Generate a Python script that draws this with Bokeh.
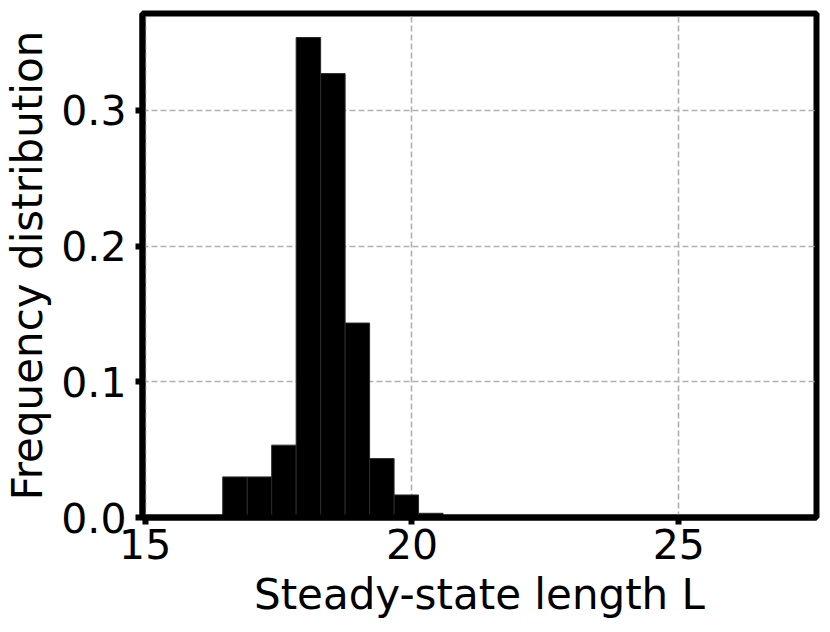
from bokeh.plotting import figure
from bokeh.models import Range1d, FixedTicker, CustomJSTickFormatter
from bokeh.embed import file_html
from bokeh.resources import INLINE

# Histogram data (25 bins)
bin_start = 15.536
bin_width = 0.4587
freq = [0.0, 0.0, 0.0299, 0.0299, 0.0533, 0.3537, 0.3271, 0.1433, 0.0434,
        0.0166, 0.0031, 0.0, 0.0, 0.0, 0.0, 0.0, 0.0, 0.0, 0.0, 0.0,
        0.0, 0.0, 0.0, 0.0, 0.0]
x_ticks = [15, 20, 25]
y_ticks = [0.0, 0.1, 0.2, 0.3]

lefts = [bin_start + i * bin_width for i in range(len(freq))]
rights = [l + bin_width for l in lefts]
bottoms = [0.0] * len(freq)

p = figure(width=824, height=624,
           x_range=Range1d(14.95, 27.58), y_range=Range1d(0, 0.3714),
           output_backend="svg", toolbar_location=None,
           min_border_left=141, min_border_right=8,
           min_border_top=13, min_border_bottom=107)

p.quad(left=lefts, right=rights, bottom=bottoms, top=freq,
       fill_color="black", line_color="#2a2a2a", line_width=1)

p.outline_line_color = "black"
p.outline_line_width = 6
p.background_fill_color = "white"
p.border_fill_color = "white"

FONT = "DejaVu Sans"
for ax in (p.xaxis[0], p.yaxis[0]):
    ax.axis_line_color = "black"
    ax.axis_line_width = 6
    ax.major_tick_line_color = "black"
    ax.major_tick_line_width = 6
    ax.major_tick_out = 7
    ax.major_tick_in = 0
    ax.minor_tick_line_color = None
    ax.major_label_text_font = FONT
    ax.major_label_text_font_size = "41px"
    ax.major_label_text_color = "black"
    ax.axis_label_text_font = FONT
    ax.axis_label_text_font_size = "42px"
    ax.axis_label_text_font_style = "normal"
    ax.axis_label_text_color = "black"

p.xaxis.ticker = FixedTicker(ticks=x_ticks)
p.yaxis.ticker = FixedTicker(ticks=y_ticks)
p.yaxis.formatter = CustomJSTickFormatter(code="return tick.toFixed(1);")
p.xaxis.axis_label = "Steady-state length L"
p.yaxis.axis_label = "Frequency distribution"
p.xaxis.major_label_standoff = 4
p.yaxis.major_label_standoff = 9
p.xaxis.axis_label_standoff = 8
p.yaxis.axis_label_standoff = 6

for g in (p.xgrid[0], p.ygrid[0]):
    g.grid_line_color = "#b0b0b0"
    g.grid_line_width = 1.6
    g.grid_line_dash = "6 3"
p.xgrid.ticker = FixedTicker(ticks=x_ticks)
p.ygrid.ticker = FixedTicker(ticks=y_ticks)

open("out.html", "w").write(file_html(p, INLINE))
